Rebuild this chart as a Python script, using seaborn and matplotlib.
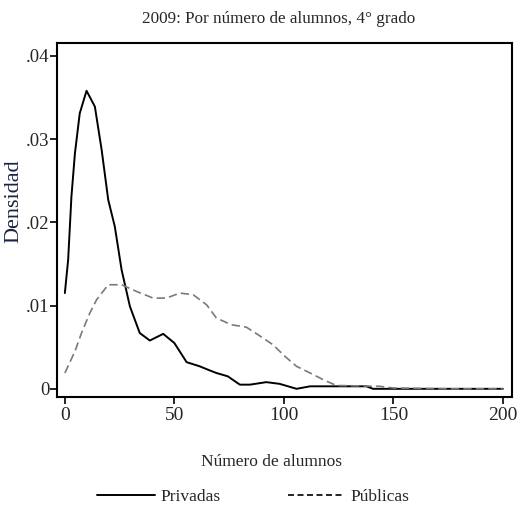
import matplotlib
matplotlib.use("Agg")
import matplotlib.pyplot as plt
import seaborn as sns
import pandas as pd
from matplotlib.lines import Line2D

# Kernel density estimates
priv_x = [0, 1.5, 3, 4.6, 6.8, 9.9, 13.7, 16.8, 19.8, 22.8, 25.9, 29.7, 34.2,
          38.8, 44.9, 50, 55.6, 61.6, 65.3, 69.2, 74.4, 79.9, 84.5, 92, 98,
          105.8, 112, 127, 137.7, 140.7, 160, 180, 200]
priv_y = [0.0115, 0.0155, 0.0231, 0.0283, 0.0331, 0.0358, 0.0339, 0.0287,
          0.0227, 0.0195, 0.0143, 0.0099, 0.0067, 0.0058, 0.0066, 0.0055,
          0.0032, 0.0027, 0.0023, 0.0019, 0.0015, 0.0005, 0.0005, 0.0008,
          0.0006, 0.0, 0.0003, 0.0003, 0.0003, 0.0, 0.0, 0.0, 0.0]

pub_x = [0, 4.6, 7.6, 11.4, 14.5, 19.8, 25.9, 32.7, 40.3, 46.4, 52.5, 58.6,
         64.7, 69.2, 76, 82.9, 88.2, 95, 100.5, 105.8, 112, 118.7, 124, 143.8,
         150, 175, 200]
pub_y = [0.0019, 0.0045, 0.0067, 0.0091, 0.0107, 0.0125, 0.0125, 0.0117,
         0.0109, 0.0109, 0.0115, 0.0113, 0.0101, 0.0085, 0.0077, 0.0074,
         0.0065, 0.0053, 0.0039, 0.0027, 0.0019, 0.0010, 0.0004, 0.0003,
         0.0001, 0.0, 0.0]

x_ticks = [0, 50, 100, 150, 200]
y_ticks = [0, 0.01, 0.02, 0.03, 0.04]
y_tick_labels = ["0", ".01", ".02", ".03", ".04"]

sns.set_style("white")
plt.rcParams["font.family"] = ["Liberation Serif", "DejaVu Serif"]

fig = plt.figure(figsize=(5.17, 5.16), dpi=100)
ax = fig.add_axes([0.110, 0.231, 0.880, 0.686])

priv = pd.DataFrame({"x": priv_x, "y": priv_y})
pub = pd.DataFrame({"x": pub_x, "y": pub_y})

sns.lineplot(data=priv, x="x", y="y", ax=ax, color="black", linewidth=1.4)
sns.lineplot(data=pub, x="x", y="y", ax=ax, color="#7a7a7a", linewidth=1.2,
             linestyle=(0, (5, 2.5)))

ax.set_xlim(-3.65, 204.1)
ax.set_ylim(-0.00096, 0.04156)
ax.set_xticks(x_ticks)
ax.set_xticklabels([str(t) for t in x_ticks])
ax.set_yticks(y_ticks)
ax.set_yticklabels(y_tick_labels)
ax.tick_params(axis="both", which="major", direction="out", length=5,
               width=1.2, color="black", labelsize=14, bottom=True, left=True)
ax.tick_params(axis="x", pad=2)
ax.tick_params(axis="y", pad=0.5, labelsize=13.5)

for s in ax.spines.values():
    s.set_visible(True)
    s.set_color("black")
    s.set_linewidth(1.5)

ax.set_title("2009: Por número de alumnos, 4° grado", fontsize=12.3, pad=14,
             x=0.488)
ax.set_xlabel("Número de alumnos", fontsize=12.5, va="center")
ax.xaxis.set_label_coords(0.4725, -0.184)
ax.set_ylabel("Densidad", fontsize=16, color="#1c2340", va="center",
              ha="center")
ax.yaxis.set_label_coords(-0.094, 0.554)

handles = [Line2D([], [], color="black", linewidth=1.4),
           Line2D([], [], color="black", linewidth=1.2,
                  linestyle=(0, (3.6, 2.1)))]
fig.legend(handles, ["Privadas", "Públicas"], loc="center",
           bbox_to_anchor=(0.49, 0.037), ncol=2, frameon=False, fontsize=12.5,
           handlelength=3.3, handletextpad=0.3, columnspacing=3.9)

fig.savefig("out.png", dpi=100)
